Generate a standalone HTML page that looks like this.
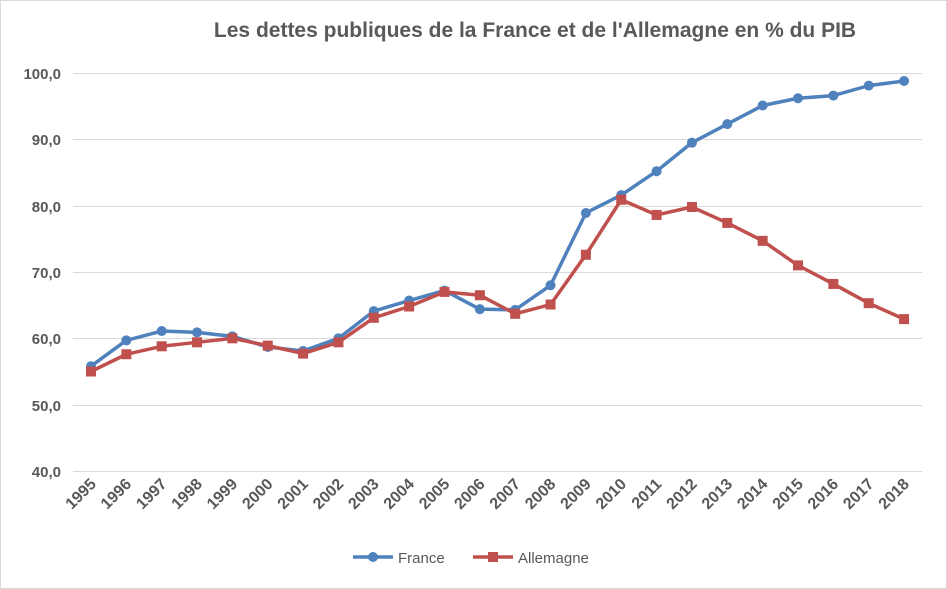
<!DOCTYPE html>
<html><head><meta charset="utf-8"><style>
body{margin:0;background:#fff}
svg{display:block;font-family:"Liberation Sans",sans-serif}
</style></head><body>
<svg width="947" height="589" viewBox="0 0 947 589">
<rect x="0.5" y="0.5" width="946" height="588" fill="#fff" stroke="#d9d9d9"/>
<text x="535" y="37" text-anchor="middle" font-size="21" font-weight="bold" fill="#595959">Les dettes publiques de la France et de l'Allemagne en % du PIB</text>
<g stroke="#d9d9d9" stroke-width="1">
<line x1="73" x2="922" y1="73.5" y2="73.5"/><line x1="73" x2="922" y1="139.5" y2="139.5"/>
<line x1="73" x2="922" y1="206.5" y2="206.5"/><line x1="73" x2="922" y1="272.5" y2="272.5"/>
<line x1="73" x2="922" y1="338.5" y2="338.5"/><line x1="73" x2="922" y1="405.5" y2="405.5"/>
<line x1="73" x2="922" y1="471.5" y2="471.5"/>
</g>
<g font-size="15" font-weight="bold" fill="#595959" text-anchor="end">
<text x="61" y="79">100,0</text><text x="61" y="145">90,0</text><text x="61" y="212">80,0</text>
<text x="61" y="278">70,0</text><text x="61" y="344">60,0</text><text x="61" y="411">50,0</text><text x="61" y="477">40,0</text>
</g>
<g id="xl" font-size="16" font-weight="bold" fill="#595959" text-anchor="end"></g>
<polyline id="fr" fill="none" stroke="#4f81bd" stroke-width="3.5" stroke-linejoin="round"/>
<polyline id="de" fill="none" stroke="#c0504d" stroke-width="3.5" stroke-linejoin="round"/>
<g id="mk"></g>
<line x1="353" x2="393" y1="557" y2="557" stroke="#4f81bd" stroke-width="3.5"/>
<circle cx="373" cy="557" r="5" fill="#4f81bd"/>
<text x="398" y="563" font-size="15" fill="#595959">France</text>
<line x1="473" x2="513" y1="557" y2="557" stroke="#c0504d" stroke-width="3.5"/>
<rect x="488" y="552" width="10" height="10" fill="#c0504d"/>
<text x="518" y="563" font-size="15" fill="#595959">Allemagne</text>
</svg>
<script>
var F=[55.8,59.7,61.1,60.9,60.3,58.7,58.1,60.0,64.1,65.7,67.2,64.4,64.3,68.0,78.9,81.6,85.2,89.5,92.3,95.1,96.2,96.6,98.1,98.8];
var D=[55.0,57.6,58.8,59.4,60.0,58.9,57.7,59.4,63.1,64.8,67.0,66.5,63.7,65.1,72.6,80.9,78.6,79.8,77.4,74.7,71.0,68.2,65.3,62.9];
function X(i){return 91+i*35.35}function Y(v){return 471-(v-40)*6.633}
var ns="http://www.w3.org/2000/svg";
document.getElementById('fr').setAttribute('points',F.map((v,i)=>X(i)+','+Y(v)).join(' '));
document.getElementById('de').setAttribute('points',D.map((v,i)=>X(i)+','+Y(v)).join(' '));
var mk=document.getElementById('mk'),xl=document.getElementById('xl');
F.forEach(function(v,i){var c=document.createElementNS(ns,'circle');c.setAttribute('cx',X(i));c.setAttribute('cy',Y(v));c.setAttribute('r',5);c.setAttribute('fill','#4f81bd');mk.appendChild(c);
var r=document.createElementNS(ns,'rect');r.setAttribute('x',X(i)-5);r.setAttribute('y',Y(D[i])-5);r.setAttribute('width',10);r.setAttribute('height',10);r.setAttribute('fill','#c0504d');mk.appendChild(r);
var t=document.createElementNS(ns,'text');var x=X(i)+6,y=485;t.setAttribute('x',x);t.setAttribute('y',y);t.setAttribute('transform','rotate(-45 '+x+' '+y+')');t.textContent=1995+i;xl.appendChild(t);});
</script>
</body></html>
